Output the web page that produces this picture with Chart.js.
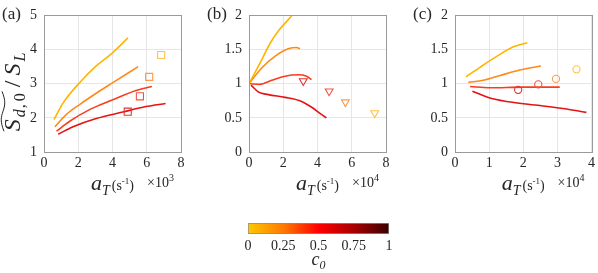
<!DOCTYPE html>
<html lang="en">
<head>
<meta charset="UTF-8">
<title>Sd0/SL vs aT</title>
<style>
  body { margin: 0; background: #fff; }
  .panel { position: absolute; }
</style>
</head>
<body>
<div class="panel" style="left:0;top:0;width:200px;height:200px"><canvas id="chartA"></canvas></div>
<div class="panel" style="left:205px;top:0;width:200px;height:200px"><canvas id="chartB"></canvas></div>
<div class="panel" style="left:411px;top:0;width:187px;height:200px"><canvas id="chartC"></canvas></div>
<div class="panel" style="left:225px;top:212px;width:190px;height:61px"><canvas id="colorbar"></canvas></div>

<script src="https://cdn.jsdelivr.net/npm/chart.js"></script>
<script>
// colours of the four c0 levels (low -> high)
const lineColors = ['#FFB400', '#FF8A1A', '#FA3C1E', '#E41414'];
const markColors = ['#FFC34A', '#FF9A4A', '#F25444', '#E03434'];

// panel (a): aT in 1e3 s^-1
const aLine1 = [[0.58,1.95],[1.12,2.44],[2.08,3.03],[3.05,3.52],[4.02,3.91],[4.9,4.34]];
const aLine2 = [[0.64,1.74],[1.31,2.1],[2.08,2.39],[3.05,2.72],[4.02,3.03],[5.5,3.5]];
const aLine3 = [[0.73,1.61],[1.5,1.9],[2.66,2.24],[4.02,2.53],[5.37,2.8],[6.3,2.92]];
const aLine4 = [[0.83,1.52],[1.7,1.74],[3.05,1.98],[4.6,2.17],[5.95,2.33],[7.1,2.42]];
const aMarkX = [6.84, 6.14, 5.6, 4.89];
const aMarkY = [3.84, 3.2, 2.63, 2.18];

// panel (b): aT in 1e4 s^-1
const bLine1 = [[0,1.0],[0.74,1.35],[1.22,1.585],[1.71,1.77],[2.49,1.99]];
const bLine2 = [[0,1.0],[0.74,1.23],[1.51,1.4],[2.29,1.51],[2.78,1.53],[2.97,1.51]];
const bLine3 = [[0.06,1.0],[0.64,0.99],[1.32,1.05],[2.1,1.11],[2.87,1.13],[3.36,1.11],[3.65,1.06]];
const bLine4 = [[0.12,0.98],[0.54,0.88],[1.13,0.84],[2.1,0.8],[3.07,0.74],[3.75,0.64],[4.23,0.55],[4.52,0.5]];
const bMarkX = [7.34, 5.63, 4.68, 3.17];
const bMarkY = [0.57, 0.73, 0.89, 1.04];

// panel (c): aT in 1e4 s^-1
const cLine1 = [[0.32,1.1],[0.73,1.24],[1.22,1.4],[1.71,1.54],[2.12,1.6]];
const cLine2 = [[0.39,1.02],[0.83,1.05],[1.32,1.12],[1.9,1.2],[2.52,1.26]];
const cLine3 = [[0.44,0.96],[1.02,0.94],[2.0,0.95],[3.07,0.95]];
const cLine4 = [[0.51,0.89],[1.02,0.79],[1.51,0.74],[2.49,0.68],[3.27,0.63],[3.85,0.58]];
const cMarkX = [3.56, 2.96, 2.44, 1.85];
const cMarkY = [1.21, 1.07, 0.99, 0.91];

// colorbar
const cbarTicks = [0, 0.25, 0.5, 0.75, 1];
const cbarStops = ['#FFC800', '#FF7A00', '#FF0000', '#A80000', '#3A0000'];

const SERIF = "'Liberation Serif', 'Times New Roman', serif";
const TXT = '#262626';

// draw a run of text pieces (italic / sub / sup) starting at x
function rich(ctx, parts, x, y) {
  parts.forEach(p => {
    ctx.font = (p.italic ? 'italic ' : '') + p.size + 'px ' + SERIF;
    ctx.fillText(p.t, x + (p.dx || 0), y + (p.dy || 0));
    x += ctx.measureText(p.t).width + (p.dx || 0);
  });
  return x;
}
function richWidth(ctx, parts) {
  let w = 0;
  parts.forEach(p => {
    ctx.font = (p.italic ? 'italic ' : '') + p.size + 'px ' + SERIF;
    w += ctx.measureText(p.t).width + (p.dx || 0);
  });
  return w;
}

const panelDeco = {
  id: 'panelDeco',
  afterDraw(chart, args, o) {
    const { ctx, chartArea: a } = chart;
    ctx.save();
    ctx.strokeStyle = '#9a9a9a';
    ctx.lineWidth = 1;
    ctx.strokeRect(Math.round(a.left) + 0.5, Math.round(a.top) + 0.5,
                   Math.round(a.right - a.left), Math.round(a.bottom - a.top));
    ctx.fillStyle = TXT;
    ctx.textBaseline = 'alphabetic';
    ctx.textAlign = 'left';
    // panel letter
    ctx.font = '17px ' + SERIF;
    ctx.fillText(o.letter, 2, 19);
    // x label
    const xl = [
      { t: 'a', size: 22, italic: true },
      { t: 'T', size: 14, italic: true, dy: 5 },
      { t: '(s', size: 14, dx: 2 },
      { t: '-1', size: 9, dy: -6 },
      { t: ')', size: 14 }
    ];
    const cx = (a.left + a.right) / 2;
    rich(ctx, xl, cx - richWidth(ctx, xl) / 2, 190);
    rich(ctx, [{ t: '\u00d710', size: 14 }, { t: o.exp, size: 10, dy: -6 }], a.right - 34, 187);
    // y label (panel a only)
    if (o.ylabel) {
      ctx.translate(20, 92);
      ctx.rotate(-Math.PI / 2);
      const p1 = [{ t: 'S', size: 24, italic: true }, { t: 'd', size: 16, italic: true, dy: 5, dx: 2 },
                  { t: ',', size: 16, dy: 5, dx: 1 }, { t: '0', size: 16, dy: 5, dx: 3 }];
      const p2 = [{ t: '/', size: 24, dx: 6 }, { t: 'S', size: 24, italic: true, dx: 5 },
                  { t: 'L', size: 16, italic: true, dy: 5, dx: 2 }];
      const w1 = richWidth(ctx, p1), w2 = richWidth(ctx, p2);
      const x0 = -(w1 + w2) / 2;
      rich(ctx, p1, x0, 0);
      rich(ctx, p2, x0 + w1, 0);
      // wide tilde over S_{d,0}
      ctx.beginPath();
      ctx.strokeStyle = TXT;
      ctx.lineWidth = 1;
      const ty = -17, tw = w1 + 2;
      ctx.moveTo(x0, ty + 1);
      ctx.bezierCurveTo(x0 + tw * 0.25, ty - 3, x0 + tw * 0.35, ty - 2, x0 + tw * 0.5, ty);
      ctx.bezierCurveTo(x0 + tw * 0.65, ty + 2, x0 + tw * 0.75, ty + 3, x0 + tw, ty - 1);
      ctx.stroke();
    }
    ctx.restore();
  }
};

function lineSet(pairs, color) {
  return {
    data: pairs.map(([x, y]) => ({ x, y })),
    showLine: true, pointRadius: 0, borderColor: color, borderWidth: 1.6,
    tension: 0.4, cubicInterpolationMode: 'monotone', order: 2
  };
}
function markSet(xs, ys, style, radius) {
  return {
    data: xs.map((x, i) => ({ x, y: ys[i] })),
    showLine: false, pointStyle: style, pointRadius: radius,
    pointRotation: style === 'triangle' ? 180 : 0,
    pointBackgroundColor: 'rgba(0,0,0,0)', pointBorderColor: markColors,
    pointBorderWidth: 1.1, order: 1
  };
}

function makePanel(id, lines, marks, xmax, xstep, ymin, ymax, ystep, rightPad, deco) {
  new Chart(document.getElementById(id), {
    type: 'scatter',
    data: {
      datasets: lines.map((l, i) => lineSet(l, lineColors[i])).concat([marks])
    },
    options: {
      responsive: true, maintainAspectRatio: false, animation: false,
      layout: { padding: { top: 14, right: rightPad, bottom: 0, left: 0 } },
      plugins: { legend: { display: false }, tooltip: { enabled: false }, panelDeco: deco },
      scales: {
        x: {
          min: 0, max: xmax,
          ticks: { stepSize: xstep, color: TXT, font: { family: SERIF, size: 14 }, padding: 3, maxRotation: 0,
                   callback: v => String(v) },
          grid: { color: '#e6e6e6', drawTicks: false },
          border: { display: false },
          afterFit: s => { s.height = 48; }
        },
        y: {
          min: ymin, max: ymax,
          ticks: { stepSize: ystep, color: TXT, font: { family: SERIF, size: 14 }, padding: 7,
                   callback: v => String(v) },
          grid: { color: '#e6e6e6', drawTicks: false },
          border: { display: false },
          afterFit: s => { s.width = 44; }
        }
      }
    },
    plugins: [panelDeco]
  });
}

makePanel('chartA', [aLine1, aLine2, aLine3, aLine4], markSet(aMarkX, aMarkY, 'rect', 5),
  8, 2, 1, 5, 1, 19, { letter: '(a)', exp: '3', ylabel: true });
makePanel('chartB', [bLine1, bLine2, bLine3, bLine4], markSet(bMarkX, bMarkY, 'triangle', 4.5),
  8, 2, 0, 2, 0.5, 19, { letter: '(b)', exp: '4', ylabel: false });
makePanel('chartC', [cLine1, cLine2, cLine3, cLine4], markSet(cMarkX, cMarkY, 'circle', 3.6),
  4, 1, 0, 2, 0.5, 6, { letter: '(c)', exp: '4', ylabel: false });

// colorbar
const cbarTitle = {
  id: 'cbarTitle',
  afterDraw(chart) {
    const { ctx, chartArea: a } = chart;
    ctx.save();
    ctx.fillStyle = TXT;
    const parts = [{ t: 'c', size: 18, italic: true }, { t: '0', size: 12, italic: true, dy: 4 }];
    const cx = (a.left + a.right) / 2;
    rich(ctx, parts, cx - richWidth(ctx, parts) / 2, 53);
    ctx.restore();
  }
};
new Chart(document.getElementById('colorbar'), {
  type: 'bar',
  data: {
    labels: ['c0'],
    datasets: [{
      data: [[cbarTicks[0], cbarTicks[cbarTicks.length - 1]]],
      backgroundColor: c => {
        const a = c.chart.chartArea;
        if (!a) return cbarStops[0];
        const g = c.chart.ctx.createLinearGradient(a.left, 0, a.right, 0);
        cbarStops.forEach((col, i) => g.addColorStop(i / (cbarStops.length - 1), col));
        return g;
      },
      borderColor: '#8c8c8c', borderWidth: 1, borderSkipped: false,
      barPercentage: 1, categoryPercentage: 1
    }]
  },
  options: {
    indexAxis: 'y',
    responsive: true, maintainAspectRatio: false, animation: false,
    layout: { padding: { top: 11, right: 26, bottom: 0, left: 23 } },
    plugins: { legend: { display: false }, tooltip: { enabled: false } },
    scales: {
      x: {
        min: 0, max: 1,
        afterBuildTicks: s => { s.ticks = cbarTicks.map(v => ({ value: v })); },
        ticks: { color: TXT, font: { family: SERIF, size: 14 }, padding: 4, maxRotation: 0, autoSkip: false,
                 callback: v => String(v) },
        grid: { display: false, drawTicks: false },
        border: { display: false },
        afterFit: s => { s.height = 39; }
      },
      y: { display: false }
    }
  },
  plugins: [cbarTitle]
});
</script>
</body>
</html>
